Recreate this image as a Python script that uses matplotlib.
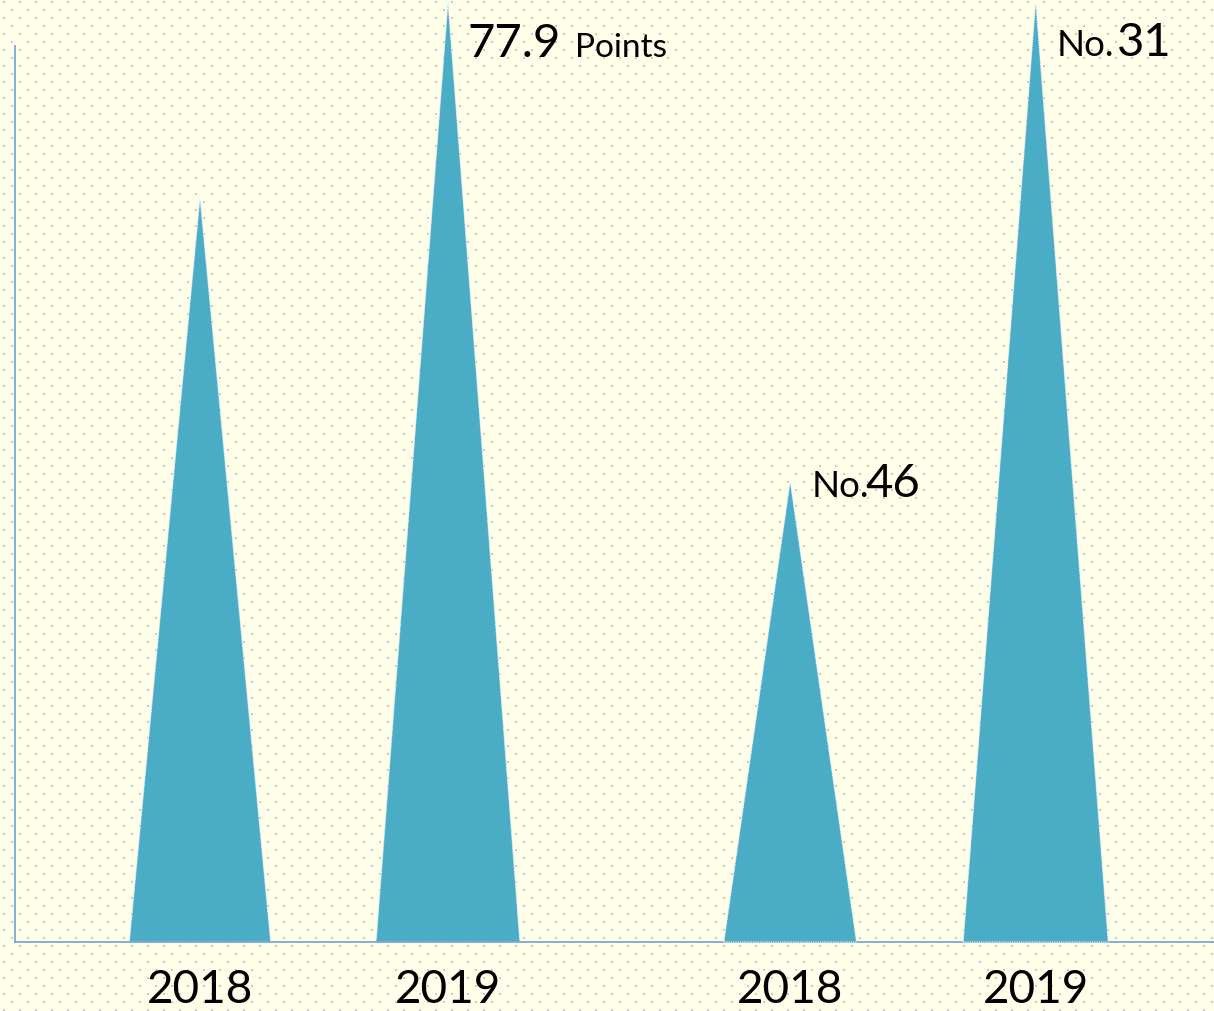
import matplotlib.pyplot as plt
from matplotlib.patches import Polygon
import numpy as np

# data
years = ['2018', '2019', '2018', '2019']
points = [61.7, 77.9]          # score, left scale
ranks = [46, 31]               # rank, inverted right scale
rank_labels = ['46', '31']

# layout
x_pos = [0, 1, 2.38, 3.37]
base_w = [0.57, 0.58, 0.535, 0.585]
tri_color = '#4BACC6'
axis_color = '#7BA7D7'
bg_color = '#FEFEE9'

W, H, dpi = 1214, 1012, 100
fig = plt.figure(figsize=(W / dpi, H / dpi), dpi=dpi)
fig.patch.set_facecolor(bg_color)

# dotted background
bg = fig.add_axes([0, 0, 1, 1], zorder=-1)
bg.set_xlim(0, W)
bg.set_ylim(H, 0)
bg.axis('off')
for i, yy in enumerate(np.arange(3, H, 8)):
    xs = np.arange(4 + (i % 2) * 8, W, 16)
    bg.scatter(xs, np.full_like(xs, yy), s=2.2, marker='s', color='#C9C9C9', linewidths=0)

ax = fig.add_axes([15 / W, (H - 943) / H, (W - 15) / W, 896 / H])
ax.patch.set_alpha(0)
ax.set_xlim(-0.746, 4.089)
ax.set_ylim(0, 74.25)
for s in ['top', 'right']:
    ax.spines[s].set_visible(False)
for s in ['left', 'bottom']:
    ax.spines[s].set_color(axis_color)
    ax.spines[s].set_linewidth(1.3)
ax.set_yticks([])
ax.set_xticks(x_pos)
ax.set_xticklabels(years, fontsize=33, family='Lato')
ax.tick_params(axis='x', length=0, pad=19)

ax2 = ax.twinx()
ax2.set_ylim(60.4, 32.4)
ax2.axis('off')


def spike(a, x, w, base, top):
    tri = Polygon([(x - w / 2, base), (x, top), (x + w / 2, base)], closed=True,
                  facecolor=tri_color, edgecolor='white', linestyle=(0, (1, 1)),
                  linewidth=0.8, clip_on=False)
    a.add_patch(tri)


for i, v in enumerate(points):
    spike(ax, x_pos[i], base_w[i], 0, v)
for i, r in enumerate(ranks):
    spike(ax2, x_pos[i + 2], base_w[i + 2], 60.4, r)


def label(a, xy, text, dx, dy, size):
    a.annotate(text, xy=xy, xytext=(dx, dy), textcoords='offset pixels',
               fontsize=size, family='Lato', va='baseline', ha='left',
               annotation_clip=False)


# value labels
label(ax, (x_pos[1], points[1]), '77.9', 20, -54, 34)
label(ax, (x_pos[1], points[1]), 'Points', 127, -54, 24)
rank_dy = [-15, -54]
rank_dx = [75, 81]
for i, r in enumerate(ranks):
    label(ax2, (x_pos[i + 2], r), 'No.', 21, rank_dy[i], 26.5)
    label(ax2, (x_pos[i + 2], r), rank_labels[i], rank_dx[i], rank_dy[i], 34)

fig.savefig('out.png', dpi=dpi, facecolor=bg_color)
